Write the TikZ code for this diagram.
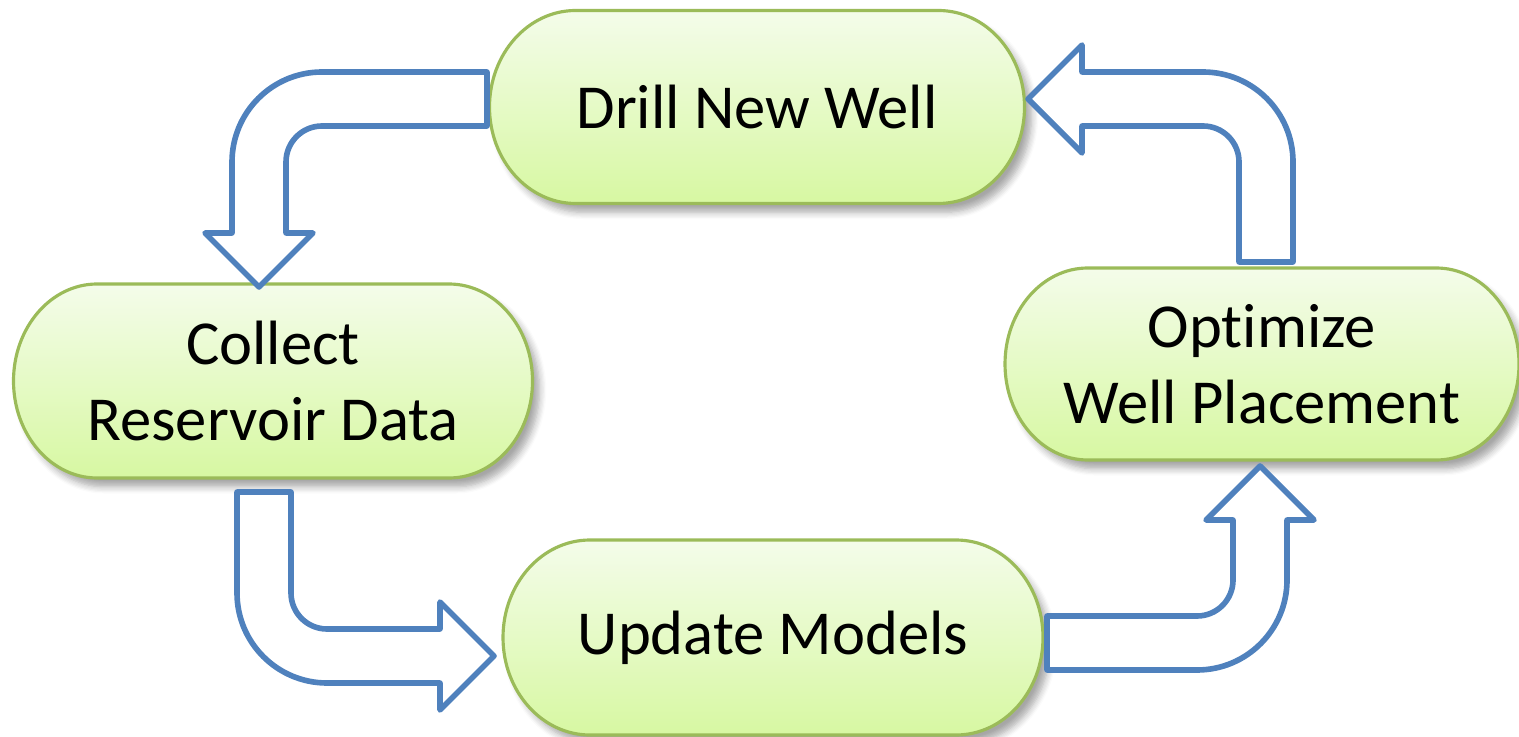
\documentclass[tikz,border=0pt]{standalone}
\usepackage{fontspec}
\setmainfont{Carlito}[Ligatures=NoCommon]
\usepackage{tikz}
\usetikzlibrary{shadows.blur}

\definecolor{stageline}{RGB}{155,187,89}
\definecolor{stagetop}{RGB}{244,252,234}
\definecolor{stagebottom}{RGB}{215,248,162}
\definecolor{arrowblue}{RGB}{79,129,189}

% terminator box: centre x, centre y, half width, half height
\newcommand{\stageshape}[4]{%
	\pgfmathsetmacro{\stagerx}{0.322*#3}%
	\path[stagebody] (#1-#3+\stagerx,#2-#4) -- (#1+#3-\stagerx,#2-#4)
		arc[start angle=-90,end angle=90,x radius=\stagerx,y radius=#4]
		-- (#1-#3+\stagerx,#2+#4)
		arc[start angle=90,end angle=270,x radius=\stagerx,y radius=#4] -- cycle;}

\begin{document}
\begin{tikzpicture}[
		x=0.01cm, y=-0.01cm,
		stagebody/.style={
			draw=stageline,
			line width=0.9pt,
			top color=stagetop,
			bottom color=stagebottom,
			blur shadow={shadow xshift=2pt, shadow yshift=-2.5pt, shadow blur steps=6, shadow opacity=35}
		},
		stage/.style={
			align=center,
			font=\fontsize{17.8}{21.5}\selectfont
		},
		flowarrow/.style={
			draw=arrowblue,
			line width=1.6pt,
			fill=white,
			line join=round
		}
		]
		
		\useasboundingbox (0,0) rectangle (1519,737);
		
		\stageshape{757}{107}{267.5}{96.5}
		\stageshape{273}{381}{259.5}{97}
		\stageshape{1262}{364}{257}{96}
		\stageshape{773}{637.5}{270}{97.5}
		
		\node[stage] (drill) at (757,107) {Drill New Well};
		\node[stage] (collect) at (273,381) {Collect\\Reservoir Data};
		\node[stage] (optimize) at (1262,364) {Opt\kern0pt imize\\Well Placement};
		\node[stage] (update) at (773,637.5) {Update Models};
		
		% drill -> collect
		\draw[flowarrow] (487,72) -- (322,72) arc[start angle=270,end angle=180,radius=90]
			-- (232,233) -- (205,233) -- (259,287) -- (313,233) -- (286,233) -- (286,162)
			arc[start angle=180,end angle=270,radius=36] -- (487,126) -- cycle;
		
		% collect -> update
		\draw[flowarrow] (237,492) -- (291,492) -- (291,593) arc[start angle=180,end angle=90,radius=36]
			-- (440,629) -- (440,602) -- (494,656) -- (440,710) -- (440,683) -- (327,683)
			arc[start angle=90,end angle=180,radius=90] -- cycle;
		
		% update -> optimize
		\draw[flowarrow] (1047,616) -- (1197,616) arc[start angle=90,end angle=0,radius=36]
			-- (1233,520) -- (1206,520) -- (1260,466) -- (1314,520) -- (1287,520) -- (1287,580)
			arc[start angle=0,end angle=90,radius=90] -- (1047,670) -- cycle;
		
		% optimize -> drill
		\draw[flowarrow] (1239,262) -- (1293,262) -- (1293,162) arc[start angle=0,end angle=-90,radius=90]
			-- (1082,72) -- (1082,45) -- (1028,99) -- (1082,153) -- (1082,126) -- (1203,126)
			arc[start angle=-90,end angle=0,radius=36] -- cycle;
		
	\end{tikzpicture}
\end{document}
